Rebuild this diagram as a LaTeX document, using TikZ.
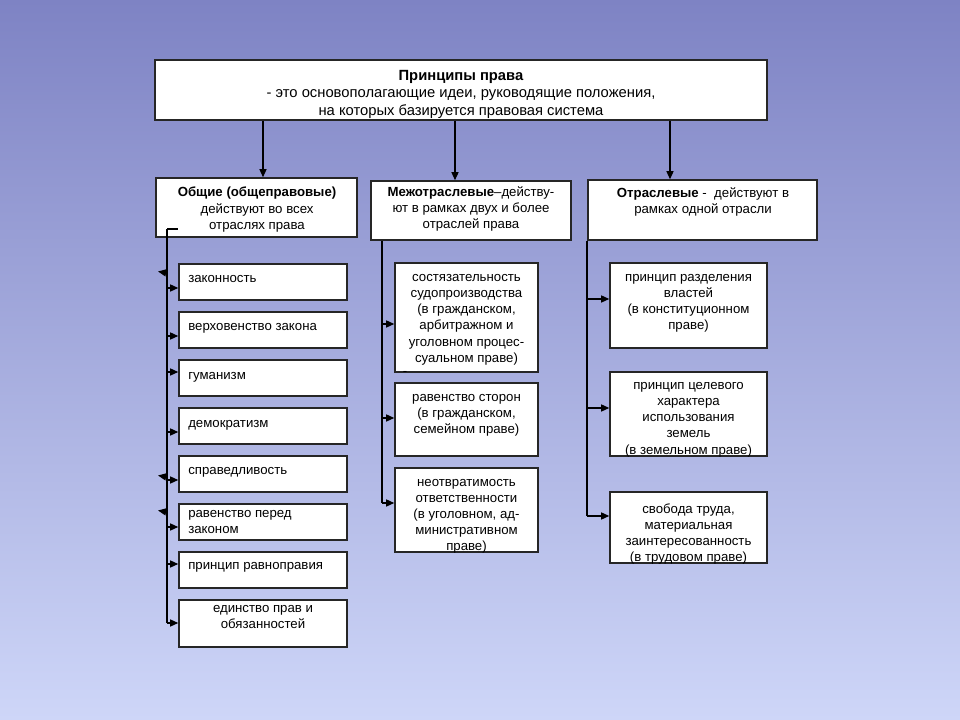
\documentclass[tikz,border=0pt]{standalone}
\usepackage{fontspec}
\setmainfont{Liberation Sans}
\usetikzlibrary{arrows.meta,fit}

\newcommand\boxfont{\fontsize{9.4}{11.4}\selectfont}
\newcommand\headfont{\fontsize{10.5}{12.4}\selectfont}
\definecolor{bgtop}{RGB}{126,131,196}
\definecolor{bgbot}{RGB}{206,214,248}

\tikzset{
  pbox/.style={draw=black!85, fill=white, line width=1pt, inner sep=0pt},
  txt/.style={font=\boxfont, align=center, inner sep=0pt, anchor=north, execute at begin node=\strut},
  ltxt/.style={txt, align=left, anchor=north west},
  link/.style={line width=1pt},
  arr/.style={link, -{Triangle[length=5.8pt,width=5pt]}},
}

\begin{document}
\begin{tikzpicture}[x=0.025cm, y=-0.025cm]
    % Background
    \fill[top color=bgtop, bottom color=bgbot] (0,0) rectangle (960,720);
    \useasboundingbox (0,0) rectangle (960,720);

    % Definition box
    \node[pbox, fit={(155,60) (767,120)}] (def) {};
    \node[txt, font=\headfont] (deft) at (461,69.7) {\textbf{Принципы права}\\- это основополагающие идеи, руководящие положения,\\на которых базируется правовая система};

    % Three kinds of principles
    \node[pbox, fit={(156,178) (357,237)}] (gen) {};
    \node[txt] (gent) at (257,187) {\textbf{Общие (общеправовые)}\\действуют во всех\\отраслях права};
    \node[pbox, fit={(371,181) (571,240)}] (mid) {};
    \node[txt] (midt) at (471,186) {\textbf{Межотраслевые}–действу-\\ют в рамках двух и более\\отраслей права};
    \node[pbox, fit={(588,180) (817,240)}] (otr) {};
    \node[txt] (otrt) at (703,187.5) {\textbf{Отраслевые} -\ \ действуют в\\рамках одной отрасли};

    % Arrows from the definition
    \coordinate (c1) at (263,0);
    \coordinate (c2) at (455,0);
    \coordinate (c3) at (670,0);
    \draw[arr] (def.south -| c1) -- (gen.north -| c1);
    \draw[arr] (def.south -| c2) -- (mid.north -| c2);
    \draw[arr] (def.south -| c3) -- (otr.north -| c3);

    % General principles
    \node[pbox, fit={(179,264) (347,300)}] (zak) {};
    \node[ltxt] (zakt) at (188,271.5) {законность};
    \node[pbox, fit={(179,312) (347,348)}] (verh) {};
    \node[ltxt] (verht) at (188,319.5) {верховенство закона};
    \node[pbox, fit={(179,360) (347,396)}] (gum) {};
    \node[ltxt] (gumt) at (188,367.5) {гуманизм};
    \node[pbox, fit={(179,408) (347,444)}] (dem) {};
    \node[ltxt] (demt) at (188,415.5) {демократизм};
    \node[pbox, fit={(179,456) (347,492)}] (spr) {};
    \node[ltxt] (sprt) at (188,462.5) {справедливость};
    \node[pbox, fit={(179,504) (347,540)}] (rav) {};
    \node[ltxt] (ravt) at (188,510) {равенство перед\\законом};
    \node[pbox, fit={(179,552) (347,588)}] (ravn) {};
    \node[ltxt] (ravnt) at (188,557.5) {принцип равноправия};
    \node[pbox, fit={(179,600) (347,647)}] (edin) {};
    \node[txt] (edint) at (263,605.5) {единство прав и\\обязанностей};

    % Inter-branch principles
    \node[pbox, fit={(395,263) (538,372)}] (sost) {};
    \node[txt] (sostt) at (466.5,274.5) {состязательность\\судопроизводства\\(в гражданском,\\арбитражном и\\уголовном процес-\\суальном праве)};
    \node[pbox, fit={(395,383) (538,456)}] (rst) {};
    \node[txt] (rstt) at (466.5,394.5) {равенство сторон\\(в гражданском,\\семейном праве)};
    \node[pbox, fit={(395,468) (538,552)}] (neotv) {};
    \node[txt] (neotvt) at (466.5,479) {неотвратимость\\ответственности\\(в уголовном, ад-\\министративном\\праве)};
    \node[inner sep=0pt, font=\boxfont] (dash) at (405,373) {-};

    % Branch principles
    \node[pbox, fit={(610,263) (767,348)}] (razd) {};
    \node[txt] (razdt) at (688.5,274.5) {принцип разделения\\властей\\(в конституционном\\праве)};
    \node[pbox, fit={(610,372) (767,456)}] (cel) {};
    \node[txt] (celt) at (688.5,382.5) {принцип целевого\\характера\\использования\\земель\\(в земельном праве)};
    \node[pbox, fit={(610,492) (767,563)}] (trud) {};
    \node[txt] (trudt) at (688.5,503.5) {свобода труда,\\материальная\\заинтересованность\\(в трудовом праве)};

    % Left bus
    \coordinate (busL) at (167,229);
    \coordinate (busLend) at (167,623);
    \draw[link] (busL) -- ++(11,0);
    \draw[link] (busL) -- (busLend);
    \foreach \n/\y in {zak/288, verh/336, gum/372, dem/432, spr/480, rav/527, ravn/564, edin/623}
        \draw[arr] (busL |- 0,\y) -- (\n.west |- 0,\y);
    \foreach \y in {273, 477, 512}
        \draw[arr] (busL |- 0,\y) -- ++(-9,-1.5);

    % Middle bus
    \coordinate (busM) at (382,0);
    \coordinate (busMend) at (382,503);
    \draw[link] (mid.south -| busM) -- (busMend);
    \foreach \n/\y in {sost/324, rst/418, neotv/503}
        \draw[arr] (busM |- 0,\y) -- (\n.west |- 0,\y);

    % Right bus
    \coordinate (busR) at (587,0);
    \coordinate (busRend) at (587,516);
    \draw[link] (otr.south -| busR) -- (busRend);
    \foreach \n/\y in {razd/299, cel/408, trud/516}
        \draw[arr] (busR |- 0,\y) -- (\n.west |- 0,\y);
\end{tikzpicture}
\end{document}
